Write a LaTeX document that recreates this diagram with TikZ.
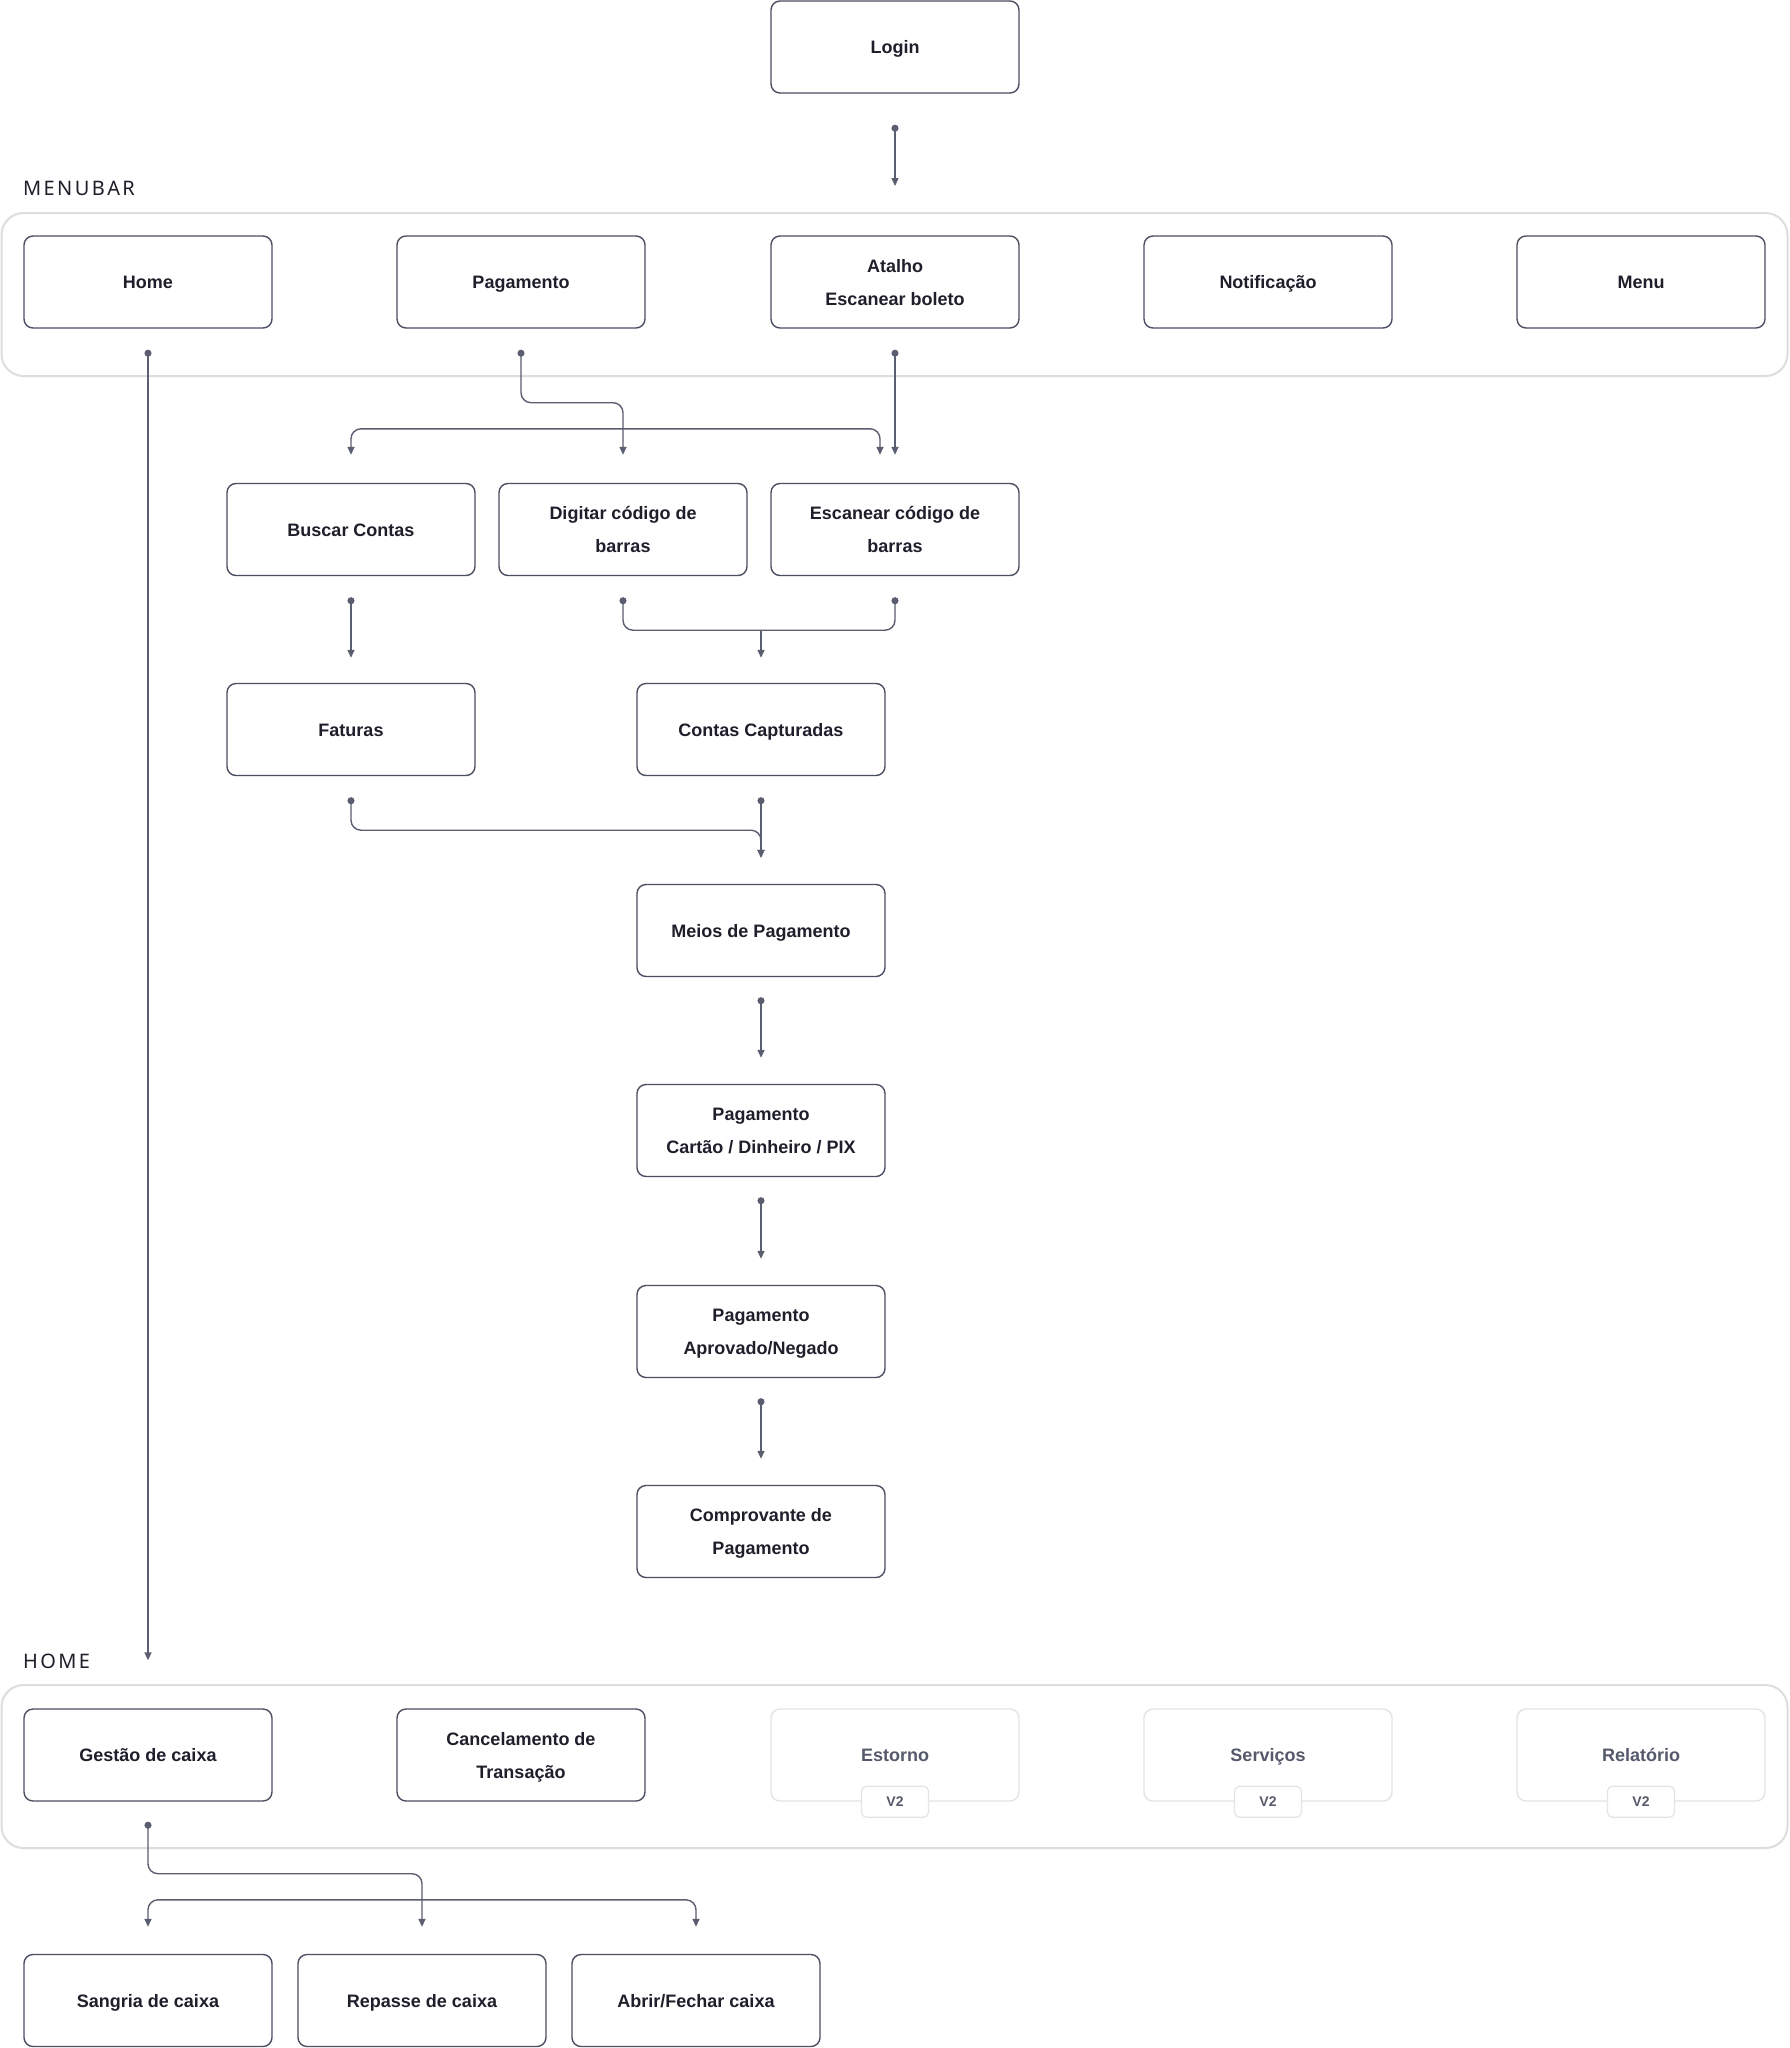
\documentclass[tikz,border=0pt]{standalone}
\usepackage{fontspec}
\setmainfont{Liberation Sans}
\newfontfamily\lblfont[LetterSpace=12]{Noto Sans}
\usetikzlibrary{arrows.meta,calc}
\definecolor{linec}{HTML}{5A5E70}
\definecolor{boxc}{HTML}{4B4F62}
\definecolor{txtc}{HTML}{1E1F2B}
\definecolor{contc}{HTML}{DDDDDD}
\definecolor{dimc}{HTML}{E4E4E6}
\definecolor{dimtxt}{HTML}{555A6B}
\newcommand{\tlines}[2]{\begin{tabular}{@{}c@{}}#1\\#2\end{tabular}}
\tikzset{
  x=1pt, y=-1pt,
  box/.style={draw=boxc, line width=1.4pt, rounded corners=9pt, fill=white,
    minimum width=248pt, minimum height=92pt, inner sep=0pt, align=center,
    text=txtc, font=\bfseries\fontsize{18pt}{33pt}\selectfont,
    execute at begin node=\strut, execute at end node=\strut},
  dimbox/.style={box, draw=dimc, text=dimtxt},
  badge/.style={draw=dimc, line width=1.2pt, fill=white, rounded corners=5pt,
    minimum width=67pt, minimum height=31pt, inner sep=0pt, text=dimtxt,
    font=\bfseries\fontsize{14pt}{16pt}\selectfont},
  container/.style={draw=contc, line width=2pt, rounded corners=22pt, fill=white,
    minimum width=1786pt, minimum height=163pt, inner sep=0pt},
  lbl/.style={anchor=west, inner sep=0pt, text=txtc, font=\fontsize{20pt}{22pt}\lblfont},
  conn/.style={draw=linec, line width=1.4pt, rounded corners=10pt},
  dotarr/.style={conn, {Circle[length=7pt]}-{Triangle[length=8pt,width=7pt]}},
  arr/.style={conn, -{Triangle[length=8pt,width=7pt]}},
  dotdot/.style={conn, {Circle[length=7pt]}-{Circle[length=7pt]}},
}
\begin{document}
\begin{tikzpicture}
\fill[white] (0,0) rectangle (1790,2048);
\useasboundingbox (0,0) rectangle (1790,2048);

% containers
\node[container] (menubar) at (894.5,294.5) {};
\node[container] (homebar) at (894.5,1766.5) {};
\node[lbl] (menubarlbl) at (23,188) {MENUBAR};
\node[lbl] (homelbl) at (23,1661) {HOME};

% nodes
\node[box] (login) at (895,47) {Login};

\node[box] (home) at (148,282) {Home};
\node[box] (pag) at (521,282) {Pagamento};
\node[box] (atalho) at (895,282) {\tlines{Atalho}{Escanear boleto}};
\node[box] (notif) at (1268,282) {Notificação};
\node[box] (menu) at (1641,282) {Menu};

\node[box] (buscar) at (351,529.5) {Buscar Contas};
\node[box] (digitar) at (623,529.5) {\tlines{Digitar código de}{barras}};
\node[box] (escanear) at (895,529.5) {\tlines{Escanear código de}{barras}};

\node[box] (faturas) at (351,729.5) {Faturas};
\node[box] (contas) at (761,729.5) {Contas Capturadas};
\node[box] (meios) at (761,930.5) {Meios de Pagamento};
\node[box] (pcartao) at (761,1130.5) {\tlines{Pagamento}{Cartão / Dinheiro / PIX}};
\node[box] (aprov) at (761,1331.5) {\tlines{Pagamento}{Aprovado/Negado}};
\node[box] (compr) at (761,1531.5) {\tlines{Comprovante de}{Pagamento}};

\node[box] (gestao) at (148,1755) {Gestão de caixa};
\node[box] (cancel) at (521,1755) {\tlines{Cancelamento de}{Transação}};
\node[dimbox] (estorno) at (895,1755) {Estorno};
\node[dimbox] (servicos) at (1268,1755) {Serviços};
\node[dimbox] (relat) at (1641,1755) {Relatório};
\node[badge] (estv2) at (estorno.south) {V2};
\node[badge] (serv2) at (servicos.south) {V2};
\node[badge] (relv2) at (relat.south) {V2};

\node[box] (sangria) at (148,2000.5) {Sangria de caixa};
\node[box] (repasse) at (422,2000.5) {Repasse de caixa};
\node[box] (abrir) at (696,2000.5) {Abrir/Fechar caixa};

% connectors
\draw[dotarr] ($(login.south)+(0,31)$) -- ($(login.south |- menubar.north)+(0,-26)$);

\draw[dotarr] ($(home.south)+(0,21)$) -- ($(gestao.north)+(0,-48)$);

\draw[dotarr] ($(pag.south)+(0,21)$) -- ($(pag.south)+(0,74)$) -| ($(digitar.north)+(0,-28)$);
\coordinate (split1) at ($(digitar.north)+(0,-54)$);
\draw[arr] (split1) -| ($(buscar.north)+(0,-28)$);
\draw[arr] (split1) -| ($(escanear.north)+(-15,-28)$);
\draw[dotarr] ($(atalho.south)+(0,21)$) -- ($(escanear.north)+(0,-28)$);

\draw[dotarr] ($(buscar.south)+(0,21)$) -- ($(faturas.north)+(0,-25)$);

\draw[dotdot] ($(digitar.south)+(0,21)$) |- ($(escanear.south)+(0,54)$) -- ($(escanear.south)+(0,21)$);
\coordinate (join1) at ($(contas.north)+(0,-53)$);
\draw[arr] (join1) -- ($(contas.north)+(0,-25)$);

\draw[dotarr] ($(faturas.south)+(0,21)$) |- ($(contas.south)+(0,54)$) -- ($(meios.north)+(0,-26)$);
\draw[dotarr] ($(contas.south)+(0,21)$) -- ($(meios.north)+(0,-26)$);

\draw[dotarr] ($(meios.south)+(0,20)$) -- ($(pcartao.north)+(0,-26)$);
\draw[dotarr] ($(pcartao.south)+(0,20)$) -- ($(aprov.north)+(0,-26)$);
\draw[dotarr] ($(aprov.south)+(0,20)$) -- ($(compr.north)+(0,-26)$);

\draw[dotarr] ($(gestao.south)+(0,20)$) -- ($(gestao.south)+(0,72)$) -| ($(repasse.north)+(0,-27)$);
\coordinate (split2) at ($(repasse.north)+(0,-54)$);
\draw[arr] (split2) -| ($(sangria.north)+(0,-27)$);
\draw[arr] (split2) -| ($(abrir.north)+(0,-27)$);
\end{tikzpicture}
\end{document}
